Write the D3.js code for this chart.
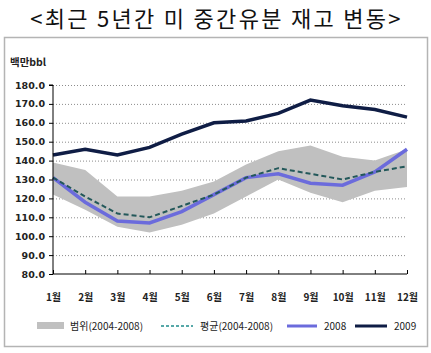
<!DOCTYPE html>
<html>
<head>
<meta charset="utf-8">
<script src="https://cdn.jsdelivr.net/npm/d3@7"></script>
<style>
  body { margin: 0; background: #fff; }
  svg { display: block; }
</style>
</head>
<body>
<svg id="chart" width="431" height="353"></svg>
<script>
// 미 중간유분 재고 — 최근 5년 범위/평균, 2008, 2009

const months = ['1월', '2월', '3월', '4월', '5월', '6월', '7월', '8월', '9월', '10월', '11월', '12월'];
const rangeLow  = [122, 114, 105, 102, 106, 112, 121, 130, 123, 118, 124, 126];
const rangeHigh = [139, 135, 121, 121, 124, 129, 138, 145, 148, 142, 140, 146];
const avg5y     = [131, 121, 112, 110, 116, 122, 131, 136, 133, 130, 134, 137];
const y2008     = [131, 118, 108, 107, 113, 122, 131, 133, 128, 127, 134, 146];
const y2009     = [143, 146, 143, 147, 154, 160, 161, 165, 172, 169, 167, 163];
const yTicks = [80, 90, 100, 110, 120, 130, 140, 150, 160, 170, 180];

const W = 431, H = 353;
const PLOT = { left: 53, right: 407, top: 85, bottom: 274 };

const svg = d3.select('#chart');

// title
svg.append('text')
    .attr('x', W / 2 + 1).attr('y', 27)
    .attr('text-anchor', 'middle')
    .attr('font-family', '"Noto Sans CJK KR", sans-serif')
    .attr('font-size', '22px')
    .attr('letter-spacing', '2.3px')
    .attr('fill', '#111')
    .text('<최근 5년간 미 중간유분 재고 변동>');

// outer frame
svg.append('rect')
    .attr('x', 4.5).attr('y', 37.5)
    .attr('width', 423).attr('height', 309)
    .attr('fill', '#fff')
    .attr('stroke', '#b4b4b4')
    .attr('stroke-width', 1.5);

svg.append('text')
    .attr('x', 10).attr('y', 66)
    .attr('font-family', '"Noto Sans CJK KR", sans-serif')
    .attr('font-size', '10.5px')
    .attr('font-weight', 700)
    .attr('fill', '#222')
    .text('백만bbl');

const x = d3.scalePoint().domain(months).range([PLOT.left, PLOT.right]);
const y = d3.scaleLinear().domain([80, 180]).range([PLOT.bottom, PLOT.top]);

// dotted gridlines
svg.append('g')
    .selectAll('line')
    .data(yTicks.filter(d => d > 80))
    .join('line')
    .attr('x1', PLOT.left).attr('x2', PLOT.right)
    .attr('y1', d => y(d) + 0.5).attr('y2', d => y(d) + 0.5)
    .attr('stroke', '#8c8c8c')
    .attr('stroke-width', 1)
    .attr('stroke-dasharray', '1,2');

// range band
const area = d3.area()
    .x((d, i) => x(months[i]))
    .y0(d => y(d[0]))
    .y1(d => y(d[1]));
svg.append('path')
    .datum(rangeLow.map((v, i) => [v, rangeHigh[i]]))
    .attr('d', area)
    .attr('fill', '#c0c0c0');

const line = d3.line().x((d, i) => x(months[i])).y(d => y(d));

svg.append('path')
    .datum(y2008)
    .attr('d', line)
    .attr('fill', 'none')
    .attr('stroke', '#6b6bdc')
    .attr('stroke-width', 3.5);

svg.append('path')
    .datum(avg5y)
    .attr('d', line)
    .attr('fill', 'none')
    .attr('stroke', '#23585a')
    .attr('stroke-width', 2)
    .attr('stroke-dasharray', '5,3');

svg.append('path')
    .datum(y2009)
    .attr('d', line)
    .attr('fill', 'none')
    .attr('stroke', '#0f1d45')
    .attr('stroke-width', 3.5);

// y axis
const yAxis = svg.append('g')
    .attr('transform', `translate(${PLOT.left},0)`)
    .call(d3.axisLeft(y).tickValues(yTicks).tickSize(4).tickFormat(d3.format('.1f')));
yAxis.select('.domain').attr('stroke', '#000').attr('d', `M-4,${PLOT.top}H0V${PLOT.bottom}`);
yAxis.selectAll('.tick line').attr('stroke', '#000');
yAxis.selectAll('text')
    .attr('x', -8)
    .attr('font-family', '"DejaVu Sans", sans-serif')
    .attr('font-size', '9.5px')
    .attr('font-weight', 700)
    .attr('fill', '#222');

// x axis
const xAxis = svg.append('g')
    .attr('transform', `translate(0,${PLOT.bottom})`)
    .call(d3.axisBottom(x).tickSize(-4).tickPadding(20));
xAxis.select('.domain').attr('stroke', '#000').attr('d', `M${PLOT.left},0H${PLOT.right}`);
xAxis.selectAll('.tick line').attr('stroke', '#000');
xAxis.selectAll('text')
    .attr('font-family', '"Noto Sans CJK KR", sans-serif')
    .attr('font-size', '10px')
    .attr('font-weight', 700)
    .attr('fill', '#222');

// legend
const legendItems = [
    { label: '범위(2004-2008)', type: 'rect', color: '#c0c0c0', x0: 37, w: 27, tx: 70 },
    { label: '평균(2004-2008)', type: 'dash', color: '#1f8c8c', x0: 161, w: 32, tx: 200 },
    { label: '2008', type: 'line', color: '#6b6bdc', x0: 287, w: 30, tx: 324 },
    { label: '2009', type: 'line', color: '#0f1d45', x0: 355, w: 32, tx: 394 }
];
const LY = 326;
const lg = svg.append('g');
legendItems.forEach(it => {
    if (it.type === 'rect') {
        lg.append('rect')
            .attr('x', it.x0).attr('y', LY - 4)
            .attr('width', it.w).attr('height', 7)
            .attr('fill', it.color);
    } else {
        lg.append('line')
            .attr('x1', it.x0).attr('x2', it.x0 + it.w)
            .attr('y1', LY).attr('y2', LY)
            .attr('stroke', it.color)
            .attr('stroke-width', it.type === 'dash' ? 1.5 : 3)
            .attr('stroke-dasharray', it.type === 'dash' ? '3,2' : null);
    }
    lg.append('text')
        .attr('x', it.tx).attr('y', LY + 4)
        .attr('font-family', '"Noto Sans CJK KR", sans-serif')
        .attr('font-size', '10px')
        .attr('fill', '#222')
        .text(it.label);
});
</script>
</body>
</html>
